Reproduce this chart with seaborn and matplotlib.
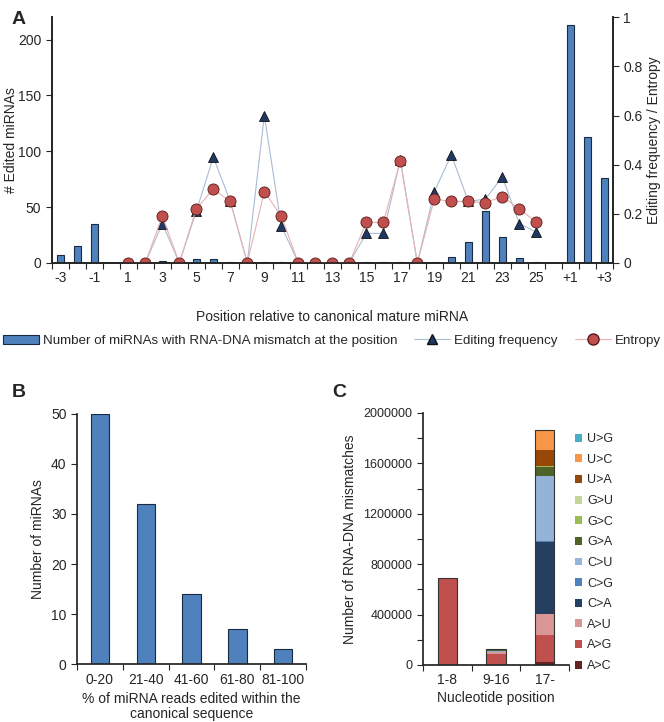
"""Three-panel figure: miRNA editing positions, edit fractions, mismatch types."""
import matplotlib
matplotlib.use("Agg")
import matplotlib.pyplot as plt
from matplotlib.patches import Patch
from matplotlib.lines import Line2D
from matplotlib.ticker import MultipleLocator
import numpy as np
import pandas as pd
import seaborn as sns

# ---- panel A data ----
FLANK5 = ["-3", "-2", "-1"]
MATURE = [str(i) for i in range(1, 26)]
FLANK3 = ["+1", "+2", "+3"]
ORDER_A = FLANK5 + [" "] + MATURE + ["  "] + FLANK3
EDITED_5 = [7, 15, 35]
EDITED_MATURE = [0, 0, 1.5, 0, 3, 3, 0.5, 0, 0.5, 0.5, 0, 0, 0, 0, 0.5,
                 0.5, 0.5, 0, 0.5, 5, 18.5, 46, 23, 4, 0.5]
EDITED_3 = [213, 113, 76]
EDIT_FREQ = [0, 0, 0.16, 0, 0.21, 0.43, 0.25, 0, 0.60, 0.15, 0, 0, 0, 0,
             0.12, 0.12, 0.42, 0, 0.29, 0.44, 0.25, 0.26, 0.35, 0.16, 0.125]
ENTROPY = [0, 0, 0.19, 0, 0.22, 0.30, 0.25, 0, 0.29, 0.19, 0, 0, 0, 0,
           0.165, 0.165, 0.415, 0, 0.26, 0.25, 0.25, 0.245, 0.27, 0.22, 0.165]

# ---- panel B data ----
BINS_B = ["0-20", "21-40", "41-60", "61-80", "81-100"]
COUNTS_B = [50, 32, 14, 7, 3]

# ---- panel C data ----
REGIONS_C = ["1-8", "9-16", "17-"]
MISMATCH_TYPES = ["A>C", "A>G", "A>U", "C>A", "C>G", "C>U",
                  "G>A", "G>C", "G>U", "U>A", "U>C", "U>G"]
MISMATCH_1_8 = [3000, 680000, 2000, 1000, 0, 1500, 500, 0, 0, 500, 500, 1000]
MISMATCH_9_16 = [2000, 88000, 12000, 2000, 1000, 9000, 1000, 0, 0, 1000, 1000, 7000]
MISMATCH_17 = [22000, 216000, 167000, 574000, 3000, 520000, 67000, 10000,
               3000, 127000, 151000, 3000]
MISMATCH_COLORS = ["#632523", "#C0504D", "#D99694", "#243F60", "#4F81BD", "#95B3D7",
                   "#4F6228", "#9BBB59", "#C3D69B", "#974806", "#F79646", "#4BACC6"]

BAR_BLUE = "#4F81BD"
BAR_EDGE = "#1a2a40"
FREQ_LINE, FREQ_FACE = "#A9BCD4", "#1F3864"
ENT_LINE, ENT_FACE = "#E6B3B2", "#C0504D"

sns.set_theme(style="ticks")
plt.rcParams["font.family"] = ["Liberation Sans", "DejaVu Sans"]
plt.rcParams["font.size"] = 10
plt.rcParams["xtick.labelsize"] = 10
plt.rcParams["ytick.labelsize"] = 10
plt.rcParams["axes.labelsize"] = 10

fig = plt.figure(figsize=(6.64, 7.22), dpi=100)

# ================= panel A =================
ax = fig.add_axes([0.078, 0.636, 0.845, 0.340])
df_a = pd.DataFrame({
    "pos": FLANK5 + MATURE + FLANK3,
    "n": EDITED_5 + EDITED_MATURE + EDITED_3,
})
sns.barplot(data=df_a, x="pos", y="n", order=ORDER_A, color=BAR_BLUE,
            width=0.4, edgecolor=BAR_EDGE, linewidth=0.8, saturation=1, ax=ax)
ax.set_ylim(0, 220)
ax.set_xlim(-0.5, len(ORDER_A) - 0.5)
ax.yaxis.set_major_locator(MultipleLocator(50))
ax.set_ylabel("# Edited miRNAs", labelpad=0)
ax.set_xlabel("Position relative to canonical mature miRNA", labelpad=18)
label_idx = list(range(0, len(ORDER_A), 2))
ax.set_xticks(label_idx)
ax.set_xticklabels([ORDER_A[i] for i in label_idx])
ax.set_xticks(np.arange(-0.5, len(ORDER_A), 1.0), minor=True)
ax.tick_params(axis="x", which="major", length=0, pad=6)
ax.tick_params(axis="x", which="minor", length=4, width=0.8, direction="out")
ax.tick_params(axis="y", length=4, width=0.8)
ax.spines["top"].set_visible(False)

ax2 = ax.twinx()
xpos = [ORDER_A.index(p) for p in MATURE]
df_lines = pd.DataFrame({"x": xpos, "freq": EDIT_FREQ, "ent": ENTROPY})
sns.lineplot(data=df_lines, x="x", y="freq", color=FREQ_LINE, linewidth=0.8,
             marker="^", markersize=7, markerfacecolor=FREQ_FACE,
             markeredgecolor="#111111", markeredgewidth=0.6, ax=ax2)
sns.lineplot(data=df_lines, x="x", y="ent", color=ENT_LINE, linewidth=0.8,
             marker="o", markersize=8, markerfacecolor=ENT_FACE,
             markeredgecolor="#5a1a1a", markeredgewidth=0.6, ax=ax2)
ax2.set_ylim(0, 1)
ax2.set_xlim(-0.5, len(ORDER_A) - 0.5)
ax2.yaxis.set_major_locator(MultipleLocator(0.2))
ax2.yaxis.set_major_formatter(plt.FuncFormatter(lambda v, _: f"{v:g}"))
ax2.set_ylabel("Editing frequency / Entropy", labelpad=3)
ax2.set_xlabel("")
ax2.tick_params(axis="y", length=4, width=0.8)
ax2.spines["top"].set_visible(False)

handles_a = [
    Patch(facecolor=BAR_BLUE, edgecolor=BAR_EDGE, linewidth=0.8),
    Line2D([], [], color=FREQ_LINE, linewidth=0.8, marker="^", markersize=7,
           markerfacecolor=FREQ_FACE, markeredgecolor="#111111"),
    Line2D([], [], color=ENT_LINE, linewidth=0.8, marker="o", markersize=8,
           markerfacecolor=ENT_FACE, markeredgecolor="#5a1a1a"),
]
fig.legend(handles_a,
           ["Number of miRNAs with RNA-DNA mismatch at the position",
            "Editing frequency", "Entropy"],
           loc="center", bbox_to_anchor=(0.5, 0.528), ncol=3, frameon=False,
           fontsize=9.6, columnspacing=1.3, handlelength=2.7, handletextpad=0.3,
           borderpad=0, borderaxespad=0)

# ================= panel B =================
axb = fig.add_axes([0.116, 0.080, 0.345, 0.347])
df_b = pd.DataFrame({"bin": BINS_B, "count": COUNTS_B})
sns.barplot(data=df_b, x="bin", y="count", color=BAR_BLUE, width=0.4,
            edgecolor=BAR_EDGE, linewidth=0.8, saturation=1, ax=axb)
axb.set_ylim(0, 50)
axb.set_xlim(-0.5, len(BINS_B) - 0.5)
axb.yaxis.set_major_locator(MultipleLocator(10))
axb.set_xticks(np.arange(-0.5, len(BINS_B), 1.0), minor=True)
axb.tick_params(axis="x", which="major", length=0, pad=6)
axb.tick_params(axis="x", which="minor", length=4, width=0.8)
axb.tick_params(axis="y", length=4, width=0.8)
axb.set_ylabel("Number of miRNAs")
axb.set_xlabel("% of miRNA reads edited within the\ncanonical sequence",
               labelpad=4, linespacing=1.05)
sns.despine(ax=axb)

# ================= panel C =================
axc = fig.add_axes([0.637, 0.079, 0.220, 0.349])
stack = np.array([MISMATCH_1_8, MISMATCH_9_16, MISMATCH_17], dtype=float)
cum = stack.cumsum(axis=1)
# draw cumulative heights from the top category down so each layer shows through
for k in range(len(MISMATCH_TYPES) - 1, -1, -1):
    df_k = pd.DataFrame({"region": REGIONS_C, "h": cum[:, k]})
    sns.barplot(data=df_k, x="region", y="h", color=MISMATCH_COLORS[k],
                width=0.4, linewidth=0, saturation=1, ax=axc)
df_tot = pd.DataFrame({"region": REGIONS_C, "h": cum[:, -1]})
sns.barplot(data=df_tot, x="region", y="h", fill=False, width=0.4,
            edgecolor="#333333", linewidth=0.8, ax=axc)
axc.set_ylim(0, 2000000)
axc.set_xlim(-0.5, len(REGIONS_C) - 0.5)
axc.yaxis.set_major_locator(MultipleLocator(400000))
axc.yaxis.set_minor_locator(MultipleLocator(200000))
axc.yaxis.set_major_formatter(plt.FuncFormatter(lambda v, _: f"{int(v)}"))
axc.set_xticks(np.arange(-0.5, len(REGIONS_C), 1.0), minor=True)
axc.tick_params(axis="x", which="major", length=0, pad=6)
axc.tick_params(axis="x", which="minor", length=4, width=0.8)
axc.tick_params(axis="y", which="both", length=4, width=0.8, labelsize=9)
axc.set_ylabel("Number of RNA-DNA mismatches", labelpad=5)
axc.set_xlabel("Nucleotide position", labelpad=3)
sns.despine(ax=axc)

handles_c = [Patch(facecolor=c, edgecolor="none") for c in MISMATCH_COLORS]
axc.legend(handles_c[::-1], MISMATCH_TYPES[::-1], loc="upper left",
           bbox_to_anchor=(1.04, 0.92), frameon=False, fontsize=9,
           handlelength=0.6, handleheight=0.6, handletextpad=0.4,
           labelspacing=0.69, borderaxespad=0, borderpad=0)

# panel letters
fig.text(0.018, 0.985, "A", fontsize=14, fontweight="bold", va="top")
fig.text(0.018, 0.468, "B", fontsize=14, fontweight="bold", va="top")
fig.text(0.500, 0.468, "C", fontsize=14, fontweight="bold", va="top")

fig.savefig("out.png", dpi=100)
